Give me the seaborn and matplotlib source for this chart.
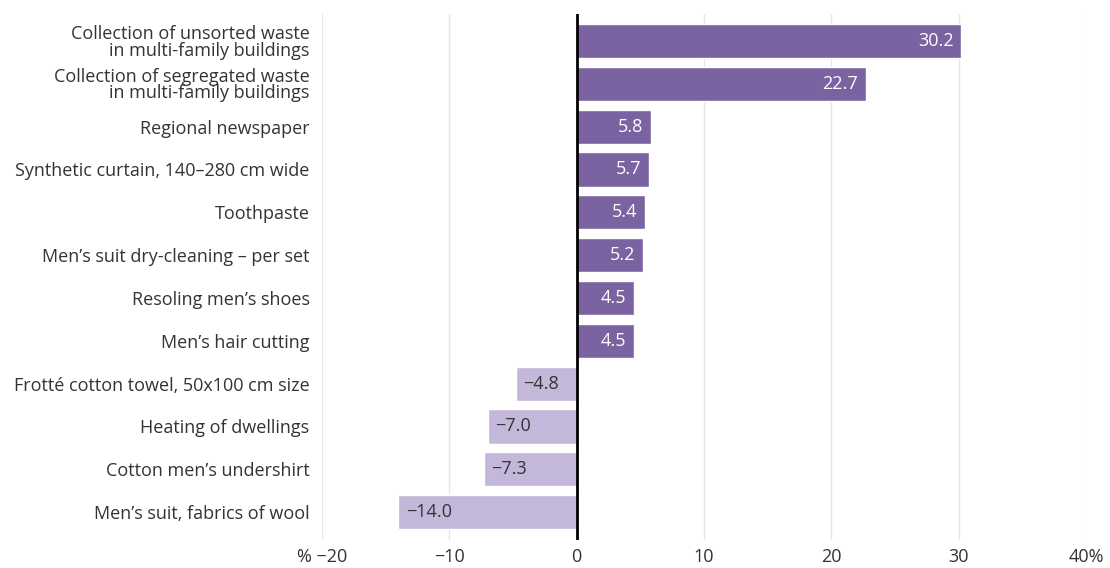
import numpy as np, pandas as pd
import matplotlib; matplotlib.use('Agg')
import matplotlib.pyplot as plt
import seaborn as sns

items = ['Collection of unsorted waste\nin multi-family buildings',
         'Collection of segregated waste\nin multi-family buildings',
         'Regional newspaper',
         'Synthetic curtain, 140\u2013280 cm wide',
         'Toothpaste',
         'Men\u2019s suit dry-cleaning \u2013 per set',
         'Resoling men\u2019s shoes',
         'Men\u2019s hair cutting',
         'Frott\u00e9 cotton towel, 50x100 cm size',
         'Heating of dwellings',
         'Cotton men\u2019s undershirt',
         'Men\u2019s suit, fabrics of wool']
change = [30.2, 22.7, 5.8, 5.7, 5.4, 5.2, 4.5, 4.5, -4.8, -7.0, -7.3, -14.0]
xticks = [-20, -10, 0, 10, 20, 30, 40]
xticklabels = ['% \u221220', '\u221210', '0', '10', '20', '30', '40%']

df = pd.DataFrame({'item': items, 'change': change})
df['sign'] = np.where(df['change'] >= 0, 'up', 'down')

sns.set_theme(style='white')
plt.rcParams['font.family'] = ['Open Sans', 'DejaVu Sans']
FS = 13

fig = plt.figure(figsize=(11.1, 5.68), dpi=100)
ax = fig.add_axes([322/1110, 1-540/568, (1086-322)/1110, 526/568])
sns.barplot(data=df, x='change', y='item', hue='sign', orient='h', dodge=False,
            palette={'up': '#7b62a0', 'down': '#c4b8da'}, width=0.8,
            legend=False, ax=ax, saturation=1)

ax.set_xlim(-20, 40)
ax.set_ylim(11.65, -0.63)
ax.set_xticks(xticks)
ax.set_xticklabels(xticklabels, fontsize=FS, color='#333333')
ax.set_xlabel(''); ax.set_ylabel('')
ax.tick_params(axis='y', labelsize=FS, labelcolor='#333333', length=0, pad=9)
ax.tick_params(axis='x', length=0, pad=6)
for lab in ax.get_yticklabels():
    lab.set_linespacing(0.9)
for x in xticks:
    if x != 0:
        ax.axvline(x, color='#e6e6e6', lw=1, zorder=0)
ax.axvline(0, color='black', lw=2, zorder=3)
for s in ax.spines.values():
    s.set_visible(False)

for i, v in enumerate(change):
    txt = f'{v:.1f}'.replace('-', '\u2212')
    if v >= 0:
        ax.text(v - 0.6, i, txt, ha='right', va='center', color='white', fontsize=FS)
    else:
        ax.text(v + 0.6, i, txt, ha='left', va='center', color='#333333', fontsize=FS)

fig.savefig('out.png', dpi=100)
